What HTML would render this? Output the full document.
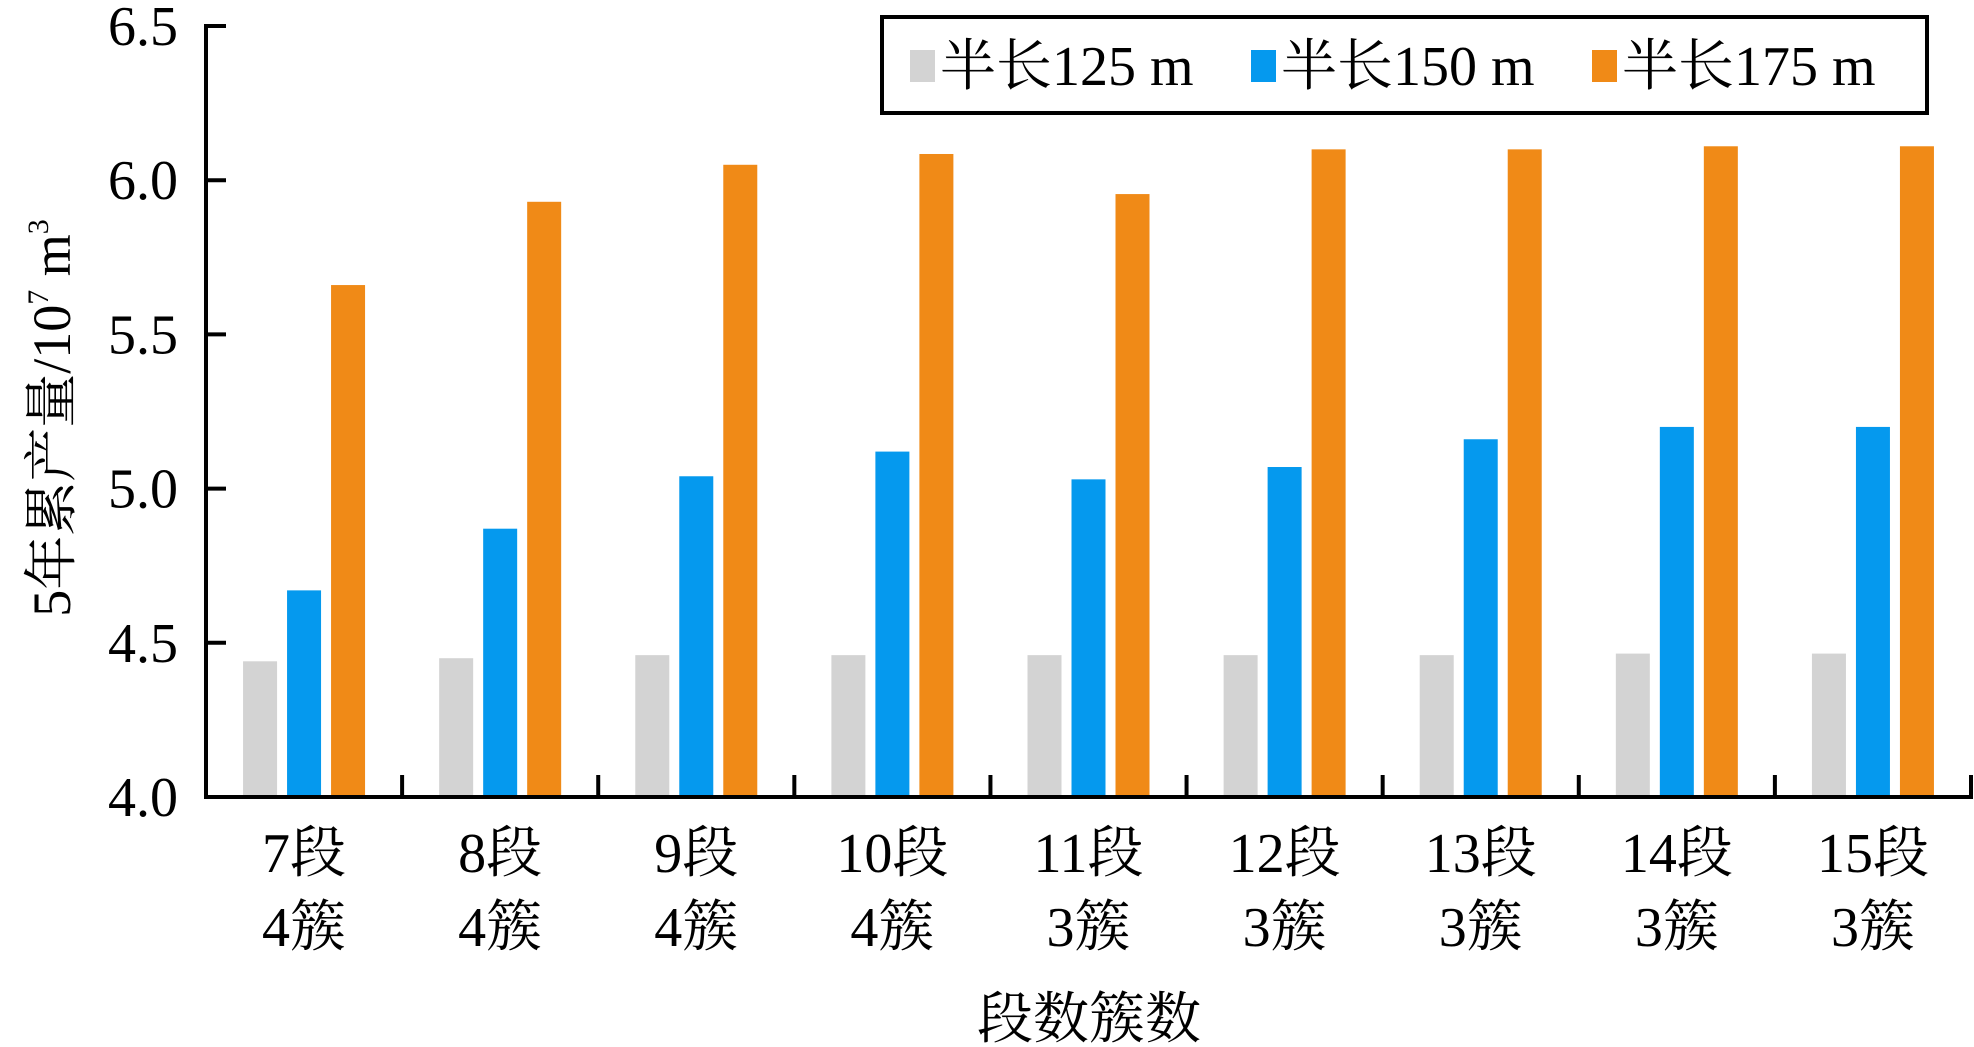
<!DOCTYPE html>
<html><head><meta charset="utf-8"><style>
html,body{margin:0;padding:0;background:#fff;}
svg{display:block;font-family:"Liberation Serif","Noto Serif CJK SC",serif;}
</style></head><body>
<svg id="chart" width="1974" height="1047" viewBox="0 0 1974 1047" xmlns="http://www.w3.org/2000/svg">
<g id="bars"></g>
<g id="axes"></g>
<text x="0" y="0" transform="translate(70,418) rotate(-90)" text-anchor="middle" font-size="54">5年累产量/10<tspan font-size="30" dy="-22">7</tspan><tspan dy="22"> m</tspan><tspan font-size="30" dy="-22">3</tspan></text>
<text x="1089" y="1038" text-anchor="middle" font-size="56">段数簇数</text>
<g>
<rect x="882" y="17" width="1045" height="96" fill="#fff" stroke="#000" stroke-width="4"/>
<rect x="910" y="50" width="25" height="32" fill="#d3d3d3"/>
<text x="940" y="85" font-size="56">半长125 m</text>
<rect x="1251" y="50" width="25" height="32" fill="#0599ee"/>
<text x="1281" y="85" font-size="56">半长150 m</text>
<rect x="1592" y="50" width="25" height="32" fill="#f08a17"/>
<text x="1622" y="85" font-size="56">半长175 m</text>
</g>
</svg>
<script>
const categoriesTop = ["7段","8段","9段","10段","11段","12段","13段","14段","15段"];
const categoriesBottom = ["4簇","4簇","4簇","4簇","3簇","3簇","3簇","3簇","3簇"];
const half125 = [4.44,4.45,4.46,4.46,4.46,4.46,4.46,4.465,4.465];
const half150 = [4.67,4.87,5.04,5.12,5.03,5.07,5.16,5.20,5.20];
const half175 = [5.66,5.93,6.05,6.085,5.955,6.10,6.10,6.11,6.11];
const yTicks = [4.0,4.5,5.0,5.5,6.0,6.5];
const yTickLabels = ["4.0","4.5","5.0","5.5","6.0","6.5"];

const NS="http://www.w3.org/2000/svg";
const X0=206,X1=1971,Y0=797,Y1=26,YMIN=4.0,YMAX=6.5;
const catW=(X1-X0)/categoriesTop.length;
function y(v){return Y0-(v-YMIN)/(YMAX-YMIN)*(Y0-Y1);}
function xc(i){return X0+catW*(i+0.5);}
function mk(tag,attrs,parent){const e=document.createElementNS(NS,tag);for(const k in attrs)e.setAttribute(k,attrs[k]);parent.appendChild(e);return e;}
const bars=document.getElementById('bars'),axes=document.getElementById('axes');
const series=[[half125,'#d3d3d3','bar-125'],[half150,'#0599ee','bar-150'],[half175,'#f08a17','bar-175']];
const bw=34,gap=10;
categoriesTop.forEach((c,i)=>{
  series.forEach((s,j)=>{
    const x=xc(i)-(3*bw+2*gap)/2+j*(bw+gap);
    const r=mk('rect',{x:x,y:y(s[0][i]),width:bw,height:Y0-y(s[0][i]),fill:s[1]},bars);
    
    
  });
  const t=mk('text',{x:xc(i),y:872,'text-anchor':'middle','font-size':56},axes);
  t.textContent=c;
  
  
  const t2=mk('text',{x:xc(i),y:946,'text-anchor':'middle','font-size':56},axes);
  t2.textContent=categoriesBottom[i];
  
  
  const tk=mk('line',{x1:X0+catW*(i+1),x2:X0+catW*(i+1),y1:Y0,y2:Y0-22,stroke:'#000','stroke-width':4},axes);
  
  
});
yTicks.forEach((v,i)=>{
  const l=mk('line',{x1:X0,x2:X0+20,y1:y(v),y2:y(v),stroke:'#000','stroke-width':4},axes);
  
  
  const t=mk('text',{x:178,y:y(v)+19,'text-anchor':'end','font-size':56},axes);
  t.textContent=yTickLabels[i];
  
  
});
const ya=mk('line',{x1:X0,x2:X0,y1:Y1-2,y2:Y0+2,stroke:'#000','stroke-width':4},axes);


const xa=mk('line',{x1:X0-2,x2:X1+2,y1:Y0,y2:Y0,stroke:'#000','stroke-width':4},axes);


</script>
</body></html>
